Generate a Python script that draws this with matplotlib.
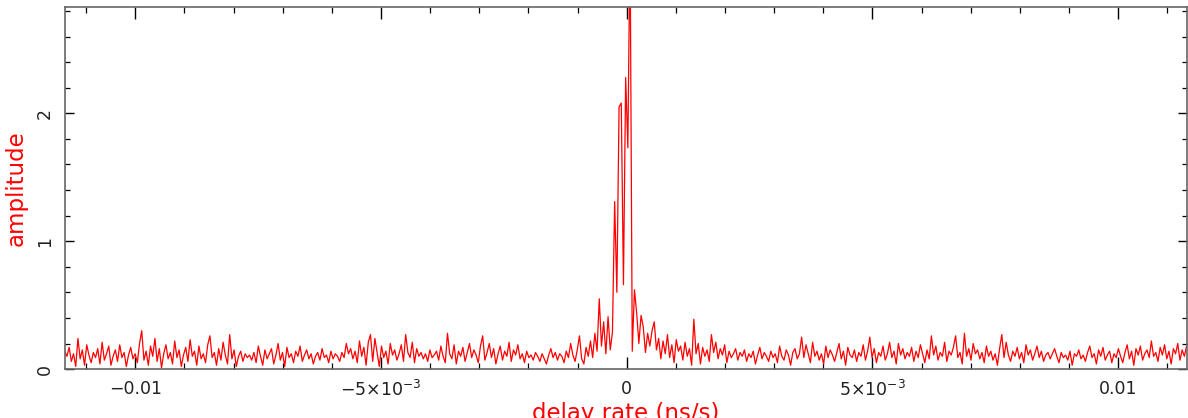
import matplotlib
matplotlib.use("Agg")
import matplotlib.pyplot as plt
from matplotlib.ticker import MultipleLocator, FixedLocator, FixedFormatter
import numpy as np

plt.rcParams['font.family'] = ['DejaVu Sans']
plt.rcParams['mathtext.fontset'] = 'dejavusans'

# delay-rate grid (ns/s), 512 channels
n_chan = 512
rate_lo, rate_hi = -0.011435, 0.011435

# fringe amplitude, 16 channels per row
amplitude = [
    0.14, 0.10, 0.17, 0.06, 0.12, 0.02, 0.24, 0.08, 0.15, 0.03, 0.19, 0.11, 0.05, 0.13, 0.09, 0.16,
    0.04, 0.21, 0.07, 0.12, 0.18, 0.03, 0.10, 0.15, 0.06, 0.19, 0.09, 0.13, 0.02, 0.11, 0.17, 0.08,
    0.12, 0.05, 0.20, 0.30, 0.07, 0.14, 0.03, 0.18, 0.10, 0.24, 0.06, 0.16, 0.01, 0.12, 0.19, 0.08,
    0.13, 0.04, 0.22, 0.09, 0.15, 0.02, 0.11, 0.17, 0.06, 0.23, 0.10, 0.14, 0.03, 0.18, 0.08, 0.12,
    0.05, 0.19, 0.26, 0.09, 0.13, 0.03, 0.16, 0.07, 0.21, 0.11, 0.04, 0.27, 0.08, 0.15, 0.02, 0.10,
    0.14, 0.06, 0.12, 0.09, 0.11, 0.07, 0.13, 0.05, 0.18, 0.10, 0.03, 0.15, 0.08, 0.12, 0.16, 0.04,
    0.11, 0.20, 0.07, 0.13, 0.02, 0.17, 0.09, 0.12, 0.05, 0.14, 0.10, 0.18, 0.06, 0.11, 0.15, 0.08,
    0.12, 0.04, 0.10, 0.13, 0.07, 0.16, 0.09, 0.11, 0.05, 0.14, 0.08, 0.12, 0.10, 0.06, 0.13, 0.09,
    0.20, 0.12, 0.16, 0.08, 0.14, 0.05, 0.22, 0.10, 0.17, 0.03, 0.21, 0.27, 0.06, 0.24, 0.13, 0.02,
    0.18, 0.09, 0.14, 0.04, 0.20, 0.11, 0.15, 0.07, 0.12, 0.19, 0.06, 0.27, 0.13, 0.09, 0.21, 0.05,
    0.16, 0.10, 0.13, 0.08, 0.12, 0.06, 0.15, 0.09, 0.11, 0.14, 0.07, 0.18, 0.10, 0.05, 0.28, 0.12,
    0.08, 0.19, 0.04, 0.14, 0.10, 0.17, 0.06, 0.13, 0.20, 0.09, 0.15, 0.11, 0.05, 0.18, 0.26, 0.07,
    0.13, 0.20, 0.09, 0.16, 0.04, 0.12, 0.18, 0.07, 0.14, 0.10, 0.21, 0.06, 0.15, 0.11, 0.19, 0.08,
    0.12, 0.05, 0.14, 0.09, 0.11, 0.07, 0.13, 0.10, 0.06, 0.12, 0.08, 0.04, 0.11, 0.16, 0.09, 0.13,
    0.07, 0.12, 0.10, 0.05, 0.14, 0.09, 0.20, 0.11, 0.06, 0.15, 0.26, 0.08, 0.04, 0.17, 0.10, 0.22,
    0.09, 0.28, 0.14, 0.55, 0.18, 0.37, 0.12, 0.41, 0.15, 0.29, 1.31, 0.60, 2.05, 2.08, 0.66, 2.28,
    1.73, 3.40, 0.14, 0.62, 0.44, 0.20, 0.42, 0.33, 0.13, 0.28, 0.18, 0.30, 0.37, 0.15, 0.24, 0.08,
    0.22, 0.12, 0.27, 0.09, 0.19, 0.05, 0.23, 0.14, 0.18, 0.07, 0.21, 0.10, 0.16, 0.03, 0.39, 0.12,
    0.20, 0.04, 0.17, 0.10, 0.15, 0.06, 0.27, 0.13, 0.21, 0.08, 0.16, 0.11, 0.19, 0.05, 0.14, 0.09,
    0.12, 0.16, 0.07, 0.13, 0.10, 0.15, 0.06, 0.12, 0.09, 0.14, 0.04, 0.11, 0.17, 0.08, 0.13, 0.10,
    0.06, 0.14, 0.09, 0.12, 0.05, 0.18, 0.10, 0.07, 0.15, 0.11, 0.03, 0.13, 0.16, 0.08, 0.12, 0.25,
    0.09, 0.19, 0.12, 0.05, 0.21, 0.10, 0.14, 0.07, 0.12, 0.04, 0.18, 0.09, 0.15, 0.11, 0.06, 0.13,
    0.20, 0.08, 0.14, 0.03, 0.17, 0.11, 0.09, 0.15, 0.06, 0.13, 0.10, 0.19, 0.07, 0.14, 0.25, 0.09,
    0.16, 0.05, 0.13, 0.10, 0.18, 0.07, 0.12, 0.21, 0.09, 0.14, 0.04, 0.20, 0.11, 0.16, 0.08, 0.13,
    0.10, 0.17, 0.06, 0.14, 0.09, 0.19, 0.12, 0.05, 0.15, 0.08, 0.26, 0.11, 0.18, 0.07, 0.13, 0.10,
    0.21, 0.06, 0.14, 0.11, 0.17, 0.26, 0.09, 0.13, 0.04, 0.28, 0.10, 0.16, 0.07, 0.20, 0.12, 0.15,
    0.08, 0.13, 0.05, 0.18, 0.10, 0.14, 0.07, 0.12, 0.03, 0.16, 0.27, 0.09, 0.21, 0.11, 0.06, 0.14,
    0.10, 0.17, 0.08, 0.13, 0.05, 0.19, 0.11, 0.15, 0.07, 0.12, 0.18, 0.09, 0.14, 0.06, 0.11, 0.13,
    0.08, 0.12, 0.16, 0.10, 0.05, 0.13, 0.09, 0.11, 0.07, 0.14, 0.03, 0.12, 0.10, 0.15, 0.08, 0.11,
    0.06, 0.13, 0.18, 0.09, 0.12, 0.04, 0.15, 0.10, 0.17, 0.07, 0.11, 0.14, 0.05, 0.12, 0.09, 0.16,
    0.10, 0.05, 0.13, 0.19, 0.08, 0.14, 0.03, 0.16, 0.11, 0.18, 0.07, 0.12, 0.15, 0.09, 0.22, 0.10,
    0.13, 0.06, 0.17, 0.11, 0.19, 0.08, 0.14, 0.04, 0.16, 0.12, 0.20, 0.07, 0.15, 0.10, 0.18, 0.20,
]

xtick_pos = [-0.01, -0.005, 0.0, 0.005, 0.01]
xtick_lab = ['\u22120.01', '\u22125\u00d710$^{\u22123}$', '0', '5\u00d710$^{\u22123}$', '0.01']

rate = np.linspace(rate_lo, rate_hi, n_chan)

fig = plt.figure(figsize=(11.88, 4.18), dpi=100)
ax = fig.add_axes([0.0547, 0.117, 0.9445, 0.866])
ax.plot(rate, amplitude, color='#ff0000', lw=0.9)

ax.set_xlim(-0.01143, 0.0114)
ax.set_ylim(0, 2.83)

ax.xaxis.set_major_locator(FixedLocator(xtick_pos))
ax.xaxis.set_major_formatter(FixedFormatter(xtick_lab))
ax.xaxis.set_minor_locator(MultipleLocator(0.001))
ax.yaxis.set_major_locator(MultipleLocator(1))
ax.yaxis.set_minor_locator(MultipleLocator(0.2))

ax.tick_params(which='both', direction='in', top=True, right=True,
               colors='black', labelcolor='#222222', labelsize=12.5)
ax.tick_params(axis='x', which='major', length=8.5, width=1.0, pad=8)
ax.tick_params(axis='x', which='minor', length=4.3, width=0.9)
ax.tick_params(axis='y', which='major', length=6.5, width=1.0, pad=8)
ax.tick_params(axis='y', which='minor', length=3.6, width=0.9)
for lab in ax.get_yticklabels():
    lab.set_rotation(90)
    lab.set_va('center')

for sp in ax.spines.values():
    sp.set_color('#666666')
    sp.set_linewidth(1.2)

ax.set_xlabel('delay rate (ns/s)', color='#ff0000', fontsize=16.5, labelpad=1)
ax.set_ylabel('amplitude', color='#ff0000', fontsize=16.5, labelpad=6)

fig.savefig('out.png', dpi=100)
